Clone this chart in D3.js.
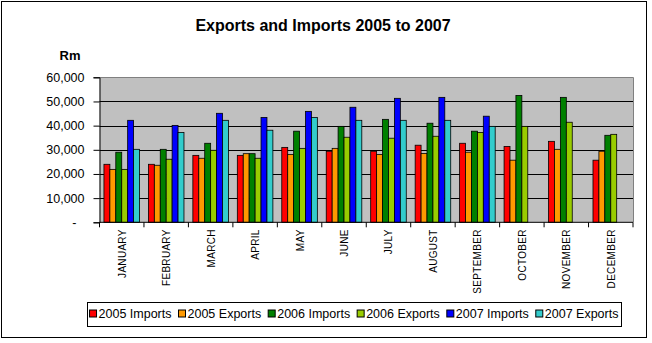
<!DOCTYPE html>
<html>
<head>
<meta charset="utf-8">
<script src="https://cdn.jsdelivr.net/npm/d3@7"></script>
<style>
  html, body { margin: 0; padding: 0; background: #fff; }
  svg { display: block; font-family: "Liberation Sans", Arial, sans-serif; }
</style>
</head>
<body>
<svg id="chart" width="652" height="343"></svg>
<script>
const months = ["JANUARY","FEBRUARY","MARCH","APRIL","MAY","JUNE","JULY","AUGUST","SEPTEMBER","OCTOBER","NOVEMBER","DECEMBER"];
const seriesNames = ["2005 Imports","2005 Exports","2006 Imports","2006 Exports","2007 Imports","2007 Exports"];
const imports2005 = [24000,24000,27700,27700,31000,29400,29400,31900,32700,31400,33500,25700];
const exports2005 = [21900,23600,26500,28400,28100,30600,28100,28500,29000,25700,30200,29400];
const imports2006 = [29000,30200,32700,28400,37700,39700,42600,41000,37700,52500,51700,36000];
const exports2006 = [21900,26100,29800,26500,30600,35200,34800,35600,37200,39700,41400,36400];
const imports2007 = [42200,40100,45100,43400,45900,47600,51300,51700,43900,null,null,null];
const exports2007 = [30200,37200,42200,38100,43400,42200,42200,42200,39700,null,null,null];
const yTicks = [0,10000,20000,30000,40000,50000,60000];
const colors = ["#FF0000","#FF9900","#008000","#99CC00","#0000FF","#33CCCC"];

const seriesValues = [imports2005, exports2005, imports2006, exports2006, imports2007, exports2007];

const svg = d3.select("#chart");
const plot = {left: 99.5, right: 633, top: 77.3, bottom: 222.3};

// outer border
svg.append("rect").attr("x", 1.5).attr("y", 1.5).attr("width", 645).attr("height", 336)
  .attr("fill", "#fff").attr("stroke", "#000").attr("stroke-width", 1);

// title
svg.append("text").attr("x", 323).attr("y", 31).attr("text-anchor", "middle")
  .attr("font-size", 16).attr("font-weight", "bold").text("Exports and Imports 2005 to 2007");
svg.append("text").attr("x", 70).attr("y", 60).attr("text-anchor", "middle")
  .attr("font-size", 13).attr("font-weight", "bold").text("Rm");

const x = d3.scaleBand().domain(months).range([plot.left, plot.right]).paddingInner(0.2).paddingOuter(0.1);
const xs = d3.scaleBand().domain(seriesNames).range([0, x.bandwidth()]).padding(0);
const y = d3.scaleLinear().domain([0, 60000]).range([plot.bottom, plot.top]);

// plot background
svg.append("rect").attr("x", plot.left).attr("y", plot.top)
  .attr("width", plot.right - plot.left).attr("height", plot.bottom - plot.top)
  .attr("fill", "#C0C0C0");

// gridlines
svg.append("g").selectAll("line").data(yTicks.filter(t => t > 0 && t < 60000)).join("line")
  .attr("x1", plot.left).attr("x2", plot.right)
  .attr("y1", d => Math.round(y(d)) + 0.5).attr("y2", d => Math.round(y(d)) + 0.5)
  .attr("stroke", "#000").attr("stroke-width", 1);

// plot border top/right grey
svg.append("path")
  .attr("d", `M${plot.left},${Math.round(plot.top)+0.5} H${Math.round(plot.right)+0.5} V${plot.bottom}`)
  .attr("fill", "none").attr("stroke", "#808080").attr("stroke-width", 1);

// bars
const barData = [];
seriesValues.forEach((vals, si) => {
  vals.forEach((v, mi) => {
    if (v != null) barData.push({s: seriesNames[si], m: months[mi], v, c: colors[si]});
  });
});
svg.append("g").selectAll("rect").data(barData).join("rect")
  .attr("x", d => x(d.m) + xs(d.s))
  .attr("width", xs.bandwidth())
  .attr("y", d => y(d.v))
  .attr("height", d => plot.bottom - y(d.v))
  .attr("fill", d => d.c)
  .attr("stroke", "#000").attr("stroke-width", 0.8);

// y axis
const yAxis = d3.axisLeft(y).tickValues(yTicks).tickSize(6).tickPadding(9)
  .tickFormat(d => d === 0 ? "-" : d3.format(",")(d));
const gy = svg.append("g").attr("transform", `translate(${plot.left},0)`).call(yAxis);
gy.selectAll("text").attr("font-size", 12.5).attr("font-family", "Liberation Sans, Arial, sans-serif").attr("fill", "#000");
gy.selectAll("line").attr("stroke", "#000");
gy.select(".domain").attr("stroke", "#000");
gy.selectAll(".tick").filter(d => d === 0).select("text").attr("dx", "-8");

// x axis
const step = x.step();
const boundaries = d3.range(months.length + 1).map(i => plot.left + i * step);
const gx = svg.append("g");
gx.append("line").attr("x1", plot.left).attr("x2", plot.right)
  .attr("y1", plot.bottom).attr("y2", plot.bottom).attr("stroke", "#000");
gx.selectAll("line.tk").data(boundaries).join("line").attr("class", "tk")
  .attr("x1", d => d).attr("x2", d => d)
  .attr("y1", plot.bottom).attr("y2", plot.bottom + 5).attr("stroke", "#000");
gx.selectAll("text").data(months).join("text")
  .attr("transform", d => `translate(${x(d) + x.bandwidth() / 2 + 4},${plot.bottom + 7}) rotate(-90)`)
  .attr("text-anchor", "end").attr("font-size", 10).attr("letter-spacing", 0.3)
  .text(d => d);

// legend
const legend = svg.append("g");
const legFont = 12.5;
const items = [];
seriesNames.forEach((n, i) => {
  const g = legend.append("g");
  g.append("rect").attr("x", 0).attr("y", -8).attr("width", 7).attr("height", 7)
    .attr("fill", colors[i]).attr("stroke", "#000").attr("stroke-width", 1);
  const t = g.append("text").attr("x", 9).attr("y", 0).attr("font-size", legFont).text(n);
  const w = t.node().getComputedTextLength();
  items.push({g, w});
});
const gap = 7;
const totalW = items.reduce((a, it) => a + 9 + it.w, 0) + gap * (items.length - 1);
const boxL = 87, boxR = 621;
let cx = boxL + ((boxR - boxL) - totalW) / 2;
items.forEach(it => {
  it.g.attr("transform", `translate(${cx},318)`);
  cx += 9 + it.w + gap;
});
legend.insert("rect", ":first-child").attr("x", boxL + 0.5).attr("y", 302.5)
  .attr("width", boxR - boxL).attr("height", 24).attr("fill", "#fff").attr("stroke", "#000");
</script>
</body>
</html>
